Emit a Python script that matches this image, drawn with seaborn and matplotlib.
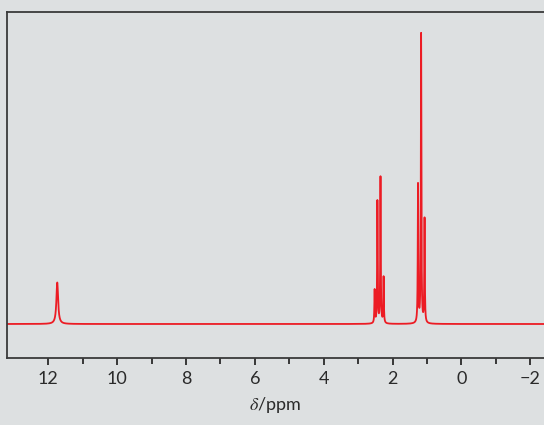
"""1H NMR spectrum (propanoic acid style) redrawn with seaborn"""

import matplotlib
matplotlib.use("Agg")
import matplotlib.pyplot as plt
import numpy as np
import pandas as pd
import seaborn as sns

# peak list: chemical shift (ppm) and height (arbitrary units)
peak_ppm = [11.74, 2.52, 2.44, 2.35, 2.26, 1.26, 1.17, 1.07]
peak_height = [41.5, 33, 122, 146, 46, 138, 289, 104]
peak_width = [0.03, 0.009, 0.009, 0.009, 0.009, 0.009, 0.009, 0.009]

x_ticks = [12, 10, 8, 6, 4, 2, 0, -2]
x_minor = [11, 9, 7, 5, 3, 1, -1]
x_range = (13.2, -2.4)

bg = "#dde0e1"
red = "#ec1c24"
ink = "#2a2a2a"

sns.set_theme(style="white")
plt.rcParams["font.family"] = ["Lato", "DejaVu Sans"]
plt.rcParams["mathtext.fontset"] = "stix"

# spectrum as a sum of lorentzian lines
shift = np.linspace(x_range[0], x_range[1], 60000)
intensity = np.zeros_like(shift)
for p, h, w in zip(peak_ppm, peak_height, peak_width):
    intensity += h * w**2 / ((shift - p) ** 2 + w**2)
df = pd.DataFrame({"shift": shift, "intensity": intensity})

fig = plt.figure(figsize=(5.44, 4.25), dpi=100, facecolor=bg)
ax = fig.add_axes([7 / 544, 1 - 358 / 425, 1 - 7 / 544, (358 - 12) / 425])
ax.set_facecolor(bg)

sns.lineplot(data=df, x="shift", y="intensity", color=red, linewidth=1.3,
             sort=False, estimator=None, ax=ax)

ax.set_xlim(*x_range)
ax.set_ylim(-34, 312)
ax.set_xticks(x_ticks)
ax.set_xticks(x_minor, minor=True)
ax.set_xticklabels([f"{t}".replace("-", "\u2212") for t in x_ticks])
ax.set_yticks([])
ax.set_ylabel("")
ax.set_xlabel(r"$\delta$/ppm", fontsize=13, color=ink, labelpad=6)

ax.tick_params(axis="x", which="major", direction="out", length=5, width=1.3,
               color=ink, labelsize=13, labelcolor=ink, pad=4, bottom=True)
ax.tick_params(axis="x", which="minor", direction="out", length=4, width=1.3,
               color=ink, bottom=True)

for side in ["left", "top", "bottom"]:
    ax.spines[side].set_color("#3a3a3a")
    ax.spines[side].set_linewidth(1.3)
ax.spines["right"].set_visible(False)

fig.savefig("out.png", dpi=100, facecolor=bg)
